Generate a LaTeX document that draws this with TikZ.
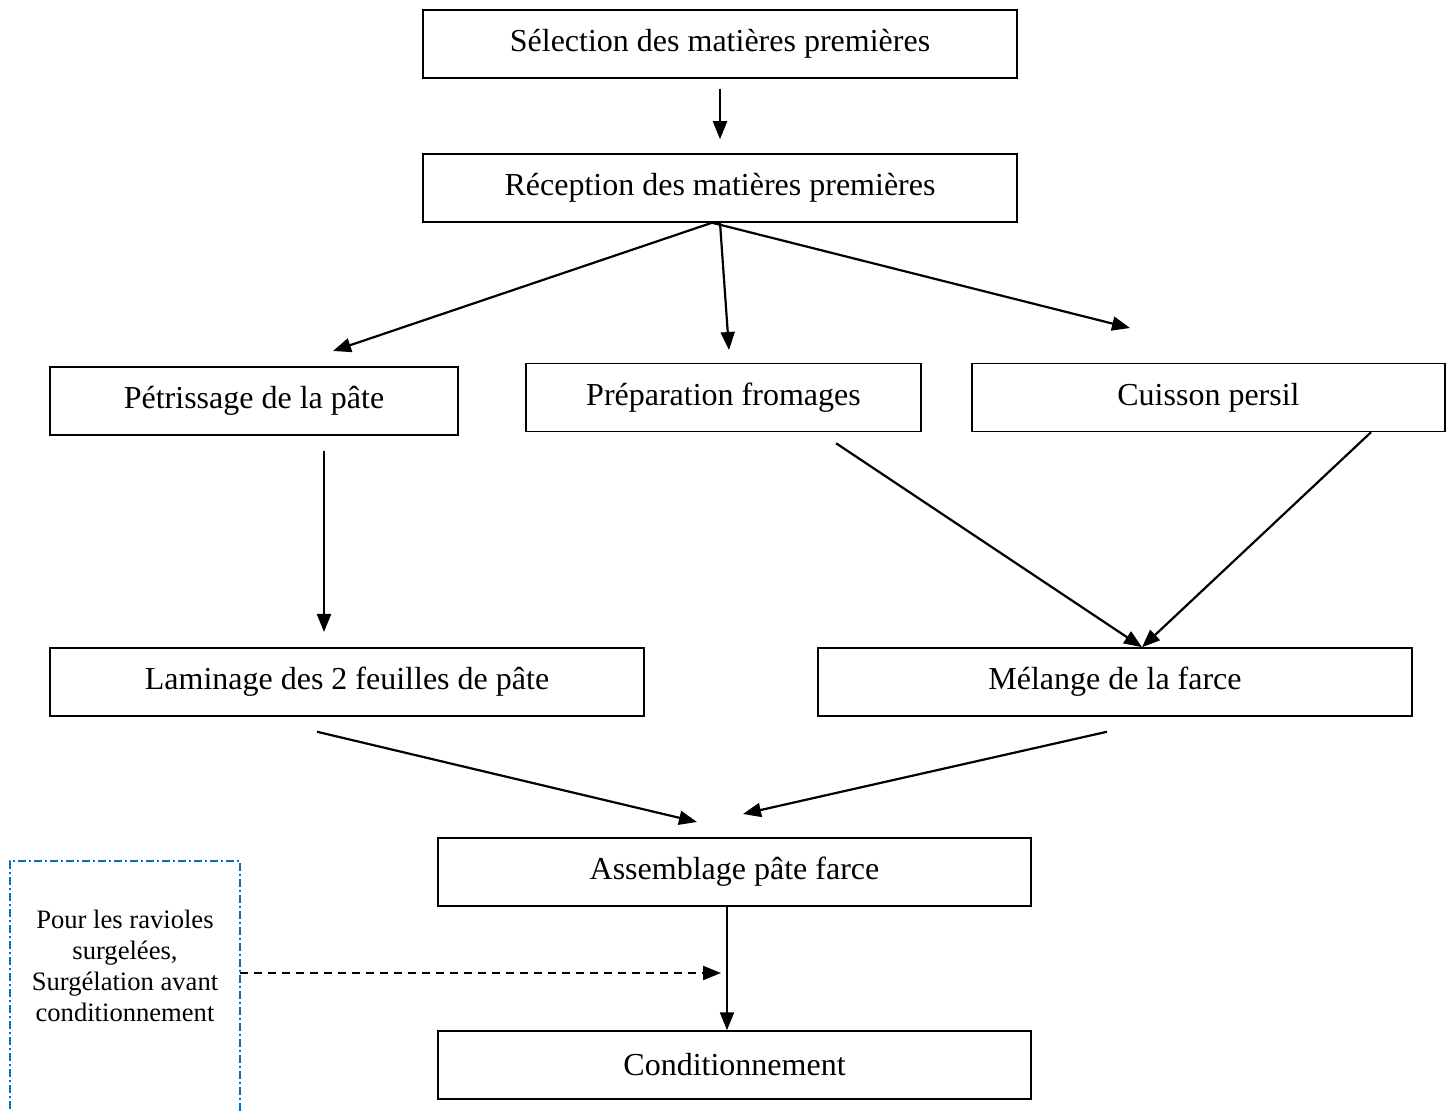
\documentclass[tikz,border=0pt]{standalone}
\usepackage{fontspec}
\setmainfont{Liberation Serif}
\usetikzlibrary{arrows.meta}

\tikzset{every picture/.style={line width=0.75pt}}
\tikzset{
  stepbox/.style={draw, line width=0.75pt, inner sep=0pt, minimum height=34pt,
    font=\fontsize{16}{19}\selectfont},
  flow/.style={line width=1.1pt, -{Triangle[length=9pt,width=7pt]}},
  dflow/.style={flow, dash pattern=on 4pt off 3pt},
  notebox/.style={draw={rgb,255:red,0;green,112;blue,192}, line width=0.75pt,
    dash pattern=on 4pt off 1.5pt on 1pt off 1.5pt}
}

\begin{document}
\begin{tikzpicture}[x=0.5pt,y=0.5pt,yscale=-1,xscale=1]
\useasboundingbox (0,0) rectangle (1455,1111);

% Text Node
\node [stepbox, minimum width=297pt] (sel) at (720,44) {Sélection des matières premières};
% Text Node
\node [stepbox, minimum width=297pt] (rec) at (720,188) {Réception des matières premières};
% Text Node
\node [stepbox, minimum width=204pt] (pet) at (254,401) {Pétrissage de la pâte};
% Text Node
\node [stepbox, minimum width=197.5pt] (pre) at (723.5,397.5) {Préparation fromages};
% Text Node
\node [stepbox, minimum width=236.5pt] (cui) at (1208.5,397.5) {Cuisson persil};
% Text Node
\node [stepbox, minimum width=297pt] (lam) at (347,682) {Laminage des 2 feuilles de pâte};
% Text Node
\node [stepbox, minimum width=297pt] (mel) at (1115,682) {Mélange de la farce};
% Text Node
\node [stepbox, minimum width=296.5pt] (ass) at (734.5,872) {Assemblage pâte farce};
% Text Node
\node [stepbox, minimum width=296.5pt] (con) at (734.5,1065) {Conditionnement};
% Text Node
\node [align=center, font=\fontsize{13.3}{15.5}\selectfont] (note) at (125,966)
  {Pour les ravioles\\surgelées,\\Surgélation avant\\conditionnement};

%Shape: Open Rectangle
\draw [notebox] (10,1125) |- (240,861) -- (240,1125) ;

% free ends
\coordinate (petIn) at (333,351);
\coordinate (preIn) at (729,350);
\coordinate (cuiIn) at (1130,328);
\coordinate (lamIn) at (324,632);
\coordinate (assInL) at (697,822);
\coordinate (assInR) at (743,814);
\coordinate (condIn) at (721,973);

%Straight Lines
\draw [flow] ([yshift=5pt]sel.south) -- ([yshift=-7pt]rec.north) ;
%Straight Lines
\draw [flow] ([xshift=-4pt]rec.south) -- (petIn) ;
%Straight Lines
\draw [flow] (rec.south) -- (preIn) ;
%Straight Lines
\draw [flow] ([xshift=-4pt]rec.south) -- (cuiIn) ;
%Straight Lines
\draw [flow] ([xshift=35pt,yshift=7.5pt]pet.south) -- (lamIn) ;
%Straight Lines
\draw [flow] ([xshift=56.25pt,yshift=5.5pt]pre.south) -- ([xshift=13.5pt]mel.north) ;
%Straight Lines
\draw [flow] ([xshift=81.25pt]cui.south) -- ([xshift=13.5pt]mel.north) ;
%Straight Lines
\draw [flow] ([xshift=-15pt,yshift=7.5pt]lam.south) -- (assInL) ;
%Straight Lines
\draw [flow] ([xshift=-4pt,yshift=7.5pt]mel.south) -- (assInR) ;
%Straight Lines
\draw [flow] ([xshift=-3.75pt]ass.south) -- ([xshift=-3.75pt]con.north) ;
%Straight Lines
\draw [dflow] (240,973) -- (condIn) ;

\end{tikzpicture}
\end{document}
